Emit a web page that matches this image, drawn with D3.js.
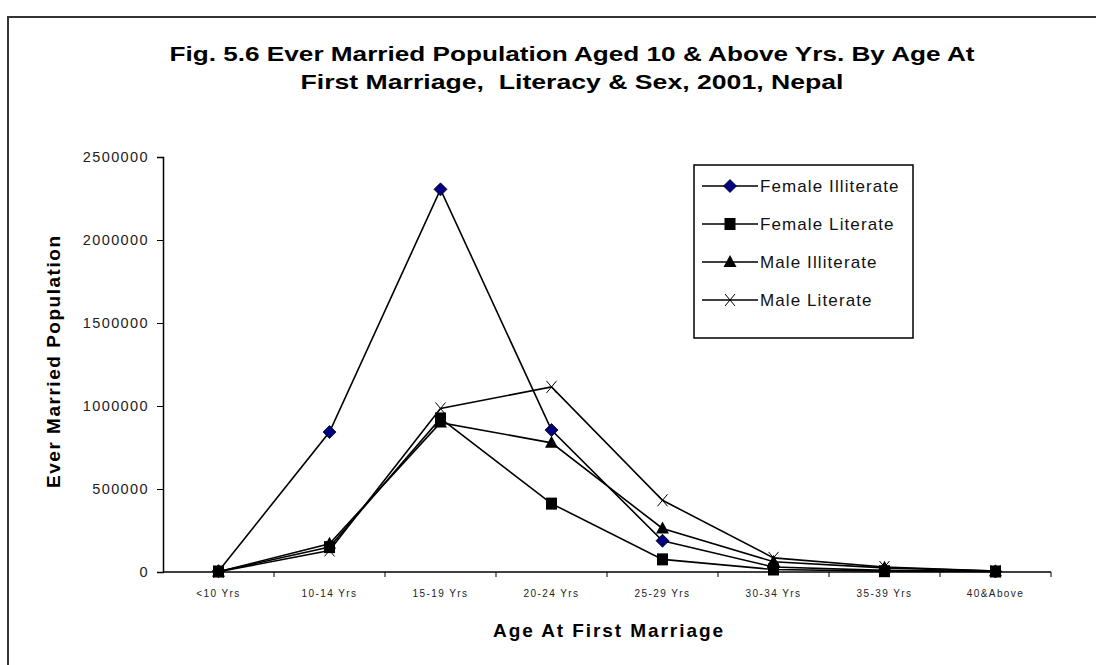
<!DOCTYPE html>
<html>
<head>
<meta charset="utf-8">
<script src="https://cdn.jsdelivr.net/npm/d3@7"></script>
<style>
  body { margin: 0; background: #fff; }
  svg { display: block; font-family: "Liberation Sans", Arial, sans-serif; }
</style>
</head>
<body>
<svg id="chart" width="1096" height="665"></svg>
<script>
// age groups at first marriage
var categories = ["<10 Yrs", "10-14 Yrs", "15-19 Yrs", "20-24 Yrs", "25-29 Yrs", "30-34 Yrs", "35-39 Yrs", "40&Above"];

var femaleIlliterate = [5000, 843000, 2305000, 855000, 188000, 30000, 10000, 3000];
var femaleLiterate   = [3000, 150000, 925000, 412000, 76000, 15000, 5000, 3000];
var maleIlliterate   = [2000, 170000, 900000, 778000, 262000, 62000, 25000, 5000];
var maleLiterate     = [1000, 130000, 985000, 1115000, 432000, 85000, 30000, 5000];

var seriesNames = ["Female Illiterate", "Female Literate", "Male Illiterate", "Male Literate"];
var yTicks = [0, 500000, 1000000, 1500000, 2000000, 2500000];

var series = [
    {name: seriesNames[0], values: femaleIlliterate, marker: "diamond"},
    {name: seriesNames[1], values: femaleLiterate, marker: "square"},
    {name: seriesNames[2], values: maleIlliterate, marker: "triangle"},
    {name: seriesNames[3], values: maleLiterate, marker: "cross"}
];

var svg = d3.select("#chart");

// outer chart frame (only left and top edges show in the window)
svg.append("rect")
    .attr("x", 8).attr("y", 17)
    .attr("width", 1200).attr("height", 800)
    .attr("fill", "none")
    .attr("stroke", "#333")
    .attr("stroke-width", 2);

var x = d3.scaleBand().domain(categories).range([163, 1051]);
var y = d3.scaleLinear().domain([0, 2500000]).range([572, 157]);

// title, bold face squeezed to the original width
var titleLines = [
    {text: "Fig. 5.6 Ever Married Population Aged 10 & Above Yrs. By Age At", y: 61, w: 805},
    {text: "First Marriage,  Literacy & Sex, 2001, Nepal", y: 89, w: 543}
];
titleLines.forEach(function(t) {
    svg.append("text")
        .attr("x", 572).attr("y", t.y)
        .attr("text-anchor", "middle")
        .attr("font-weight", "bold")
        .attr("font-size", 21)
        .attr("textLength", t.w)
        .attr("lengthAdjust", "spacingAndGlyphs")
        .style("white-space", "pre")
        .text(t.text);
});

// y axis
var yAxis = svg.append("g")
    .attr("transform", "translate(163,0)")
    .call(d3.axisLeft(y).tickValues(yTicks).tickSize(6).tickFormat(d3.format("d")));
yAxis.select(".domain").attr("stroke", "#000").attr("stroke-width", 1.5);
yAxis.selectAll(".tick line").attr("stroke", "#000");
yAxis.selectAll(".tick text")
    .attr("font-size", 14.5)
    .attr("letter-spacing", 1.4)
    .attr("font-family", "'Liberation Sans', Arial, sans-serif")
    .attr("fill", "#222")
    .attr("x", -14);

// x axis with ticks between categories
var bounds = categories.map(function(c) { return x(c); }).concat([x.range()[1]]);
var xAxis = svg.append("g").attr("transform", "translate(0,572)");
xAxis.append("line")
    .attr("x1", 163).attr("x2", 1051)
    .attr("stroke", "#000").attr("stroke-width", 1.5);
xAxis.selectAll("line.tk").data(bounds.slice(1)).enter()
    .append("line").attr("class", "tk")
    .attr("x1", function(d) { return d; }).attr("x2", function(d) { return d; })
    .attr("y1", 0).attr("y2", 5)
    .attr("stroke", "#000");
xAxis.selectAll("text").data(categories).enter()
    .append("text")
    .attr("x", function(d) { return x(d) + x.bandwidth() / 2; })
    .attr("y", 25)
    .attr("text-anchor", "middle")
    .attr("font-size", 10)
    .attr("letter-spacing", 1.4)
    .attr("fill", "#222")
    .text(function(d) { return d; });

// axis titles
svg.append("text")
    .attr("x", 608).attr("y", 637)
    .attr("text-anchor", "middle")
    .attr("font-weight", "bold")
    .attr("font-size", 19)
    .attr("textLength", 230)
    .attr("lengthAdjust", "spacing")
    .text("Age At First Marriage");
svg.append("text")
    .attr("transform", "translate(60,362) rotate(-90)")
    .attr("text-anchor", "middle")
    .attr("font-weight", "bold")
    .attr("font-size", 19)
    .attr("textLength", 252)
    .attr("lengthAdjust", "spacing")
    .text("Ever Married Population");

// markers
function drawMarker(g, type, cx, cy) {
    if (type === "diamond") {
        g.append("path")
            .attr("d", "M" + cx + "," + (cy - 6.5) + "L" + (cx + 6.5) + "," + cy + "L" + cx + "," + (cy + 6.5) + "L" + (cx - 6.5) + "," + cy + "Z")
            .attr("fill", "#000080").attr("stroke", "#000").attr("stroke-width", 0.8);
    } else if (type === "square") {
        g.append("rect")
            .attr("x", cx - 5.5).attr("y", cy - 6).attr("width", 11).attr("height", 12)
            .attr("fill", "#000");
    } else if (type === "triangle") {
        g.append("path")
            .attr("d", "M" + cx + "," + (cy - 7) + "L" + (cx + 6.5) + "," + (cy + 5) + "L" + (cx - 6.5) + "," + (cy + 5) + "Z")
            .attr("fill", "#000");
    } else {
        g.append("path")
            .attr("d", "M" + (cx - 5) + "," + (cy - 6) + "L" + (cx + 5) + "," + (cy + 6) + "M" + (cx + 5) + "," + (cy - 6) + "L" + (cx - 5) + "," + (cy + 6))
            .attr("stroke", "#000").attr("stroke-width", 1);
    }
}

var line = d3.line()
    .x(function(d, i) { return x(categories[i]) + x.bandwidth() / 2; })
    .y(function(d) { return y(d); });

series.forEach(function(s) {
    var g = svg.append("g");
    g.append("path")
        .attr("d", line(s.values))
        .attr("fill", "none")
        .attr("stroke", "#000")
        .attr("stroke-width", 1.6);
    s.values.forEach(function(v, i) {
        drawMarker(g, s.marker, x(categories[i]) + x.bandwidth() / 2, y(v));
    });
});

// legend
var legend = svg.append("g").attr("transform", "translate(694,165)");
legend.append("rect")
    .attr("width", 219).attr("height", 173)
    .attr("fill", "#fff").attr("stroke", "#000").attr("stroke-width", 1.5);
series.forEach(function(s, i) {
    var ly = 21 + i * 38;
    var item = legend.append("g");
    item.append("line")
        .attr("x1", 8).attr("x2", 64).attr("y1", ly).attr("y2", ly)
        .attr("stroke", "#000").attr("stroke-width", 1.5);
    drawMarker(item, s.marker, 36, ly);
    item.append("text")
        .attr("x", 66).attr("y", ly + 6)
        .attr("font-size", 17)
        .attr("letter-spacing", 1.1)
        .attr("fill", "#111")
        .text(s.name);
});
</script>
</body>
</html>
